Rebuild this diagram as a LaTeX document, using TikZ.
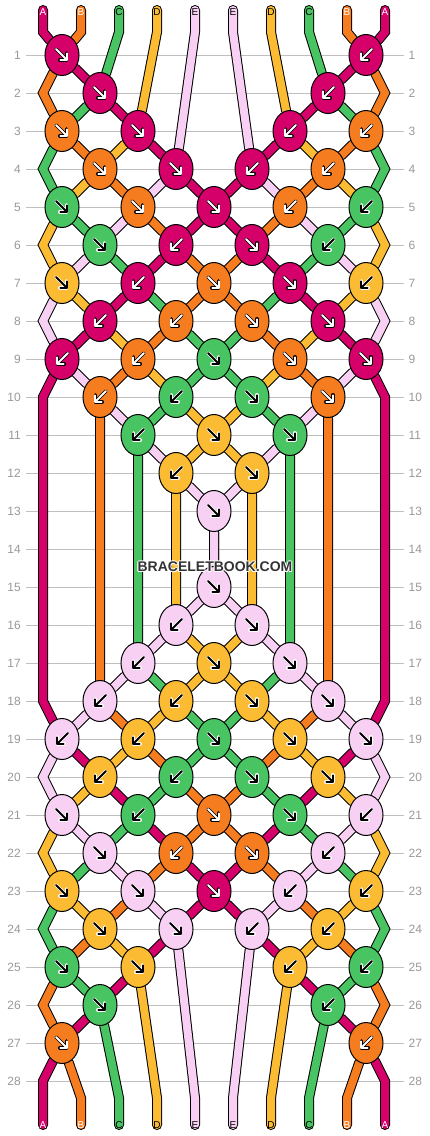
\documentclass[tikz,border=0pt]{standalone}
\usepackage{fontspec}
\setmainfont{Liberation Sans}
\usetikzlibrary{shapes.geometric,arrows.meta,backgrounds}

\definecolor{mag}{RGB}{214,0,107}
\definecolor{ora}{RGB}{245,125,32}
\definecolor{gre}{RGB}{72,197,98}
\definecolor{yel}{RGB}{251,188,51}
\definecolor{pin}{RGB}{248,208,244}

\tikzset{
  knot/.style={ellipse, draw=black, line width=1pt, minimum width=34pt, minimum height=41pt, inner sep=0pt},
  thread/.style={draw=black, line width=1pt, double=#1, double distance=8pt, line cap=round},
  knotarrow/.style={-{Straight Barb[length=5pt, width=10pt, round]}, line cap=round},
  rowline/.style={draw=black!25, line width=1pt, shorten <=5pt, shorten >=4.5pt},
  rownum/.style={text=black!40, font=\fontsize{12}{12}\selectfont, inner sep=0pt},
  letter/.style={font=\fontsize{10}{10}\selectfont, inner sep=0pt},
  brandtext/.style={font=\bfseries\fontsize{14}{14}\selectfont, inner sep=0pt},
  fg mag/.style={white}, bg mag/.style={black},
  fg ora/.style={white}, bg ora/.style={black},
  fg gre/.style={black}, bg gre/.style={white},
  fg yel/.style={black}, bg yel/.style={white},
  fg pin/.style={black}, bg pin/.style={white}
}

\begin{document}
\begin{tikzpicture}[x=1pt, y=-1pt]
    \useasboundingbox (0,0) rectangle (430,1136);
    \begin{pgfonlayer}{background}
        \fill[white] (0,0) rectangle (430,1136);
    \end{pgfonlayer}

    % Numeros de rangs
    \foreach \r in {1,...,28} {
        \pgfmathsetmacro\ry{55+38*(\r-1)}
        \node[rownum, anchor=east] (nl\r) at (21,\ry) {\r};
        \node[rownum, anchor=west] (nr\r) at (408.5,\ry) {\r};
    }

    % Bouts des fils, haut et bas
    \foreach \i in {1,...,10} {
        \pgfmathsetmacro\sx{43+38*(\i-1)}
        \coordinate (ta\i) at (\sx,10);
        \coordinate (tb\i) at (\sx,32);
        \coordinate (bb\i) at (\sx,1098);
        \coordinate (ba\i) at (\sx,1125);
    }

    % Points de bord (rangs pairs)
    \foreach \r in {2,4,...,28} {
        \pgfmathsetmacro\ry{55+38*(\r-1)}
        \coordinate (eL\r) at (43,\ry);
        \coordinate (eR\r) at (385,\ry);
    }

    % Noeuds : rang/place/couleur/sens (1 = vers la droite, -1 = vers la gauche)
    \foreach \r/\s/\c/\d in {
        1/1/mag/1, 1/5/mag/-1,
        2/1/mag/1, 2/4/mag/-1,
        3/1/ora/1, 3/2/mag/1, 3/4/mag/-1, 3/5/ora/-1,
        4/1/ora/1, 4/2/mag/1, 4/3/mag/-1, 4/4/ora/-1,
        5/1/gre/1, 5/2/ora/1, 5/3/mag/1, 5/4/ora/-1, 5/5/gre/-1,
        6/1/gre/1, 6/2/mag/-1, 6/3/mag/1, 6/4/gre/-1,
        7/1/yel/1, 7/2/mag/-1, 7/3/ora/1, 7/4/mag/1, 7/5/yel/-1,
        8/1/mag/-1, 8/2/ora/-1, 8/3/ora/1, 8/4/mag/1,
        9/1/mag/-1, 9/2/ora/-1, 9/3/gre/1, 9/4/ora/1, 9/5/mag/1,
        10/1/ora/-1, 10/2/gre/-1, 10/3/gre/1, 10/4/ora/1,
        11/2/gre/-1, 11/3/yel/1, 11/4/gre/1,
        12/2/yel/-1, 12/3/yel/1,
        13/3/pin/1,
        15/3/pin/1,
        16/2/pin/-1, 16/3/pin/1,
        17/2/pin/-1, 17/3/yel/1, 17/4/pin/1,
        18/1/pin/-1, 18/2/yel/-1, 18/3/yel/1, 18/4/pin/1,
        19/1/pin/-1, 19/2/yel/-1, 19/3/gre/1, 19/4/yel/1, 19/5/pin/1,
        20/1/yel/-1, 20/2/gre/-1, 20/3/gre/1, 20/4/yel/1,
        21/1/pin/1, 21/2/gre/-1, 21/3/ora/1, 21/4/gre/1, 21/5/pin/-1,
        22/1/pin/1, 22/2/ora/-1, 22/3/ora/1, 22/4/pin/-1,
        23/1/yel/1, 23/2/pin/1, 23/3/mag/1, 23/4/pin/-1, 23/5/yel/-1,
        24/1/yel/1, 24/2/pin/1, 24/3/pin/-1, 24/4/yel/-1,
        25/1/gre/1, 25/2/yel/1, 25/4/yel/-1, 25/5/gre/-1,
        26/1/gre/1, 26/4/gre/-1,
        27/1/ora/1, 27/5/ora/-1} {
        \pgfmathsetmacro\kx{62+38*(1-mod(\r,2))+76*(\s-1)}
        \pgfmathsetmacro\ky{55+38*(\r-1)}
        \node[knot, fill=\c] (k\r-\s) at (\kx,\ky) {};
        \draw[knotarrow, bg \c, line width=3.4pt] (\kx-6*\d,\ky-6) -- (\kx+6*\d,\ky+6);
        \draw[knotarrow, fg \c, line width=1.8pt] (\kx-6*\d,\ky-6) -- (\kx+6*\d,\ky+6);
    }

    \begin{pgfonlayer}{background}
        % Lignes des rangs
        \foreach \r in {1,...,28}
            \draw[rowline] (nl\r) -- (nr\r);

        % Fils de gauche
        \draw[thread=mag] (ta1) -- (tb1) -- (k1-1) -- (k2-1) -- (k3-2) -- (k4-2) -- (k5-3) -- (k6-3) -- (k7-4) -- (k8-4) -- (k9-5) -- (eR10) -- (eR18) -- (k19-5) -- (k20-4) -- (k21-4) -- (k22-3) -- (k23-3) -- (k24-2) -- (k25-2) -- (k26-1) -- (k27-1) -- (eL28) -- (ba1);
        \draw[thread=ora] (ta2) -- (tb2) -- (k1-1) -- (eL2) -- (k3-1) -- (k4-1) -- (k5-2) -- (k6-2) -- (k7-3) -- (k8-3) -- (k9-4) -- (k10-4) -- (k18-4) -- (k19-4) -- (k20-3) -- (k21-3) -- (k22-2) -- (k23-2) -- (k24-1) -- (k25-1) -- (eL26) -- (k27-1) -- (bb2) -- (ba2);
        \draw[thread=gre] (ta3) -- (tb3) -- (k2-1) -- (k3-1) -- (eL4) -- (k5-1) -- (k6-1) -- (k7-2) -- (k8-2) -- (k9-3) -- (k10-3) -- (k11-4) -- (k17-4) -- (k18-3) -- (k19-3) -- (k20-2) -- (k21-2) -- (k22-1) -- (k23-1) -- (eL24) -- (k25-1) -- (k26-1) -- (bb3) -- (ba3);
        \draw[thread=yel] (ta4) -- (tb4) -- (k3-2) -- (k4-1) -- (k5-1) -- (eL6) -- (k7-1) -- (k8-1) -- (k9-2) -- (k10-2) -- (k11-3) -- (k12-3) -- (k16-3) -- (k17-3) -- (k18-2) -- (k19-2) -- (k20-1) -- (k21-1) -- (eL22) -- (k23-1) -- (k24-1) -- (k25-2) -- (bb4) -- (ba4);
        \draw[thread=pin] (ta5) -- (tb5) -- (k4-2) -- (k5-2) -- (k6-1) -- (k7-1) -- (eL8) -- (k9-1) -- (k10-1) -- (k11-2) -- (k12-2) -- (k13-3) -- (k15-3) -- (k16-2) -- (k17-2) -- (k18-1) -- (k19-1) -- (eL20) -- (k21-1) -- (k22-1) -- (k23-2) -- (k24-2) -- (bb5) -- (ba5);

        % Fils de droite
        \draw[thread=mag] (ta10) -- (tb10) -- (k1-5) -- (k2-4) -- (k3-4) -- (k4-3) -- (k5-3) -- (k6-2) -- (k7-2) -- (k8-1) -- (k9-1) -- (eL10) -- (eL18) -- (k19-1) -- (k20-1) -- (k21-2) -- (k22-2) -- (k23-3) -- (k24-3) -- (k25-4) -- (k26-4) -- (k27-5) -- (eR28) -- (ba10);
        \draw[thread=ora] (ta9) -- (tb9) -- (k1-5) -- (eR2) -- (k3-5) -- (k4-4) -- (k5-4) -- (k6-3) -- (k7-3) -- (k8-2) -- (k9-2) -- (k10-1) -- (k18-1) -- (k19-2) -- (k20-2) -- (k21-3) -- (k22-3) -- (k23-4) -- (k24-4) -- (k25-5) -- (eR26) -- (k27-5) -- (bb9) -- (ba9);
        \draw[thread=gre] (ta8) -- (tb8) -- (k2-4) -- (k3-5) -- (eR4) -- (k5-5) -- (k6-4) -- (k7-4) -- (k8-3) -- (k9-3) -- (k10-2) -- (k11-2) -- (k17-2) -- (k18-2) -- (k19-3) -- (k20-3) -- (k21-4) -- (k22-4) -- (k23-5) -- (eR24) -- (k25-5) -- (k26-4) -- (bb8) -- (ba8);
        \draw[thread=yel] (ta7) -- (tb7) -- (k3-4) -- (k4-4) -- (k5-5) -- (eR6) -- (k7-5) -- (k8-4) -- (k9-4) -- (k10-3) -- (k11-3) -- (k12-2) -- (k16-2) -- (k17-3) -- (k18-3) -- (k19-4) -- (k20-4) -- (k21-5) -- (eR22) -- (k23-5) -- (k24-4) -- (k25-4) -- (bb7) -- (ba7);
        \draw[thread=pin] (ta6) -- (tb6) -- (k4-3) -- (k5-4) -- (k6-4) -- (k7-5) -- (eR8) -- (k9-5) -- (k10-4) -- (k11-4) -- (k12-3) -- (k13-3) -- (k15-3) -- (k16-3) -- (k17-4) -- (k18-4) -- (k19-5) -- (eR20) -- (k21-5) -- (k22-4) -- (k23-4) -- (k24-3) -- (bb6) -- (ba6);
    \end{pgfonlayer}

    % Lettres des fils
    \foreach \i/\l/\t in {1/A/white, 2/B/white, 3/C/black, 4/D/black, 5/E/black,
                          6/E/black, 7/D/black, 8/C/black, 9/B/white, 10/A/white} {
        \pgfmathsetmacro\sx{43+38*(\i-1)}
        \node[letter, text=\t] (lt\i) at (\sx,12) {\l};
        \node[letter, text=\t] (lb\i) at (\sx,1125) {\l};
    }

    % Filigrane
    \foreach \dx/\dy [count=\i] in {1/0, -1/0, 0/1, 0/-1, .7/.7, -.7/.7, .7/-.7, -.7/-.7}
        \node[brandtext, text=white] (halo\i) at (215+\dx,567+\dy) {BRACELETBOOK.COM};
    \node[brandtext, text=black!80] (brand) at (215,567) {BRACELETBOOK.COM};
\end{tikzpicture}
\end{document}
